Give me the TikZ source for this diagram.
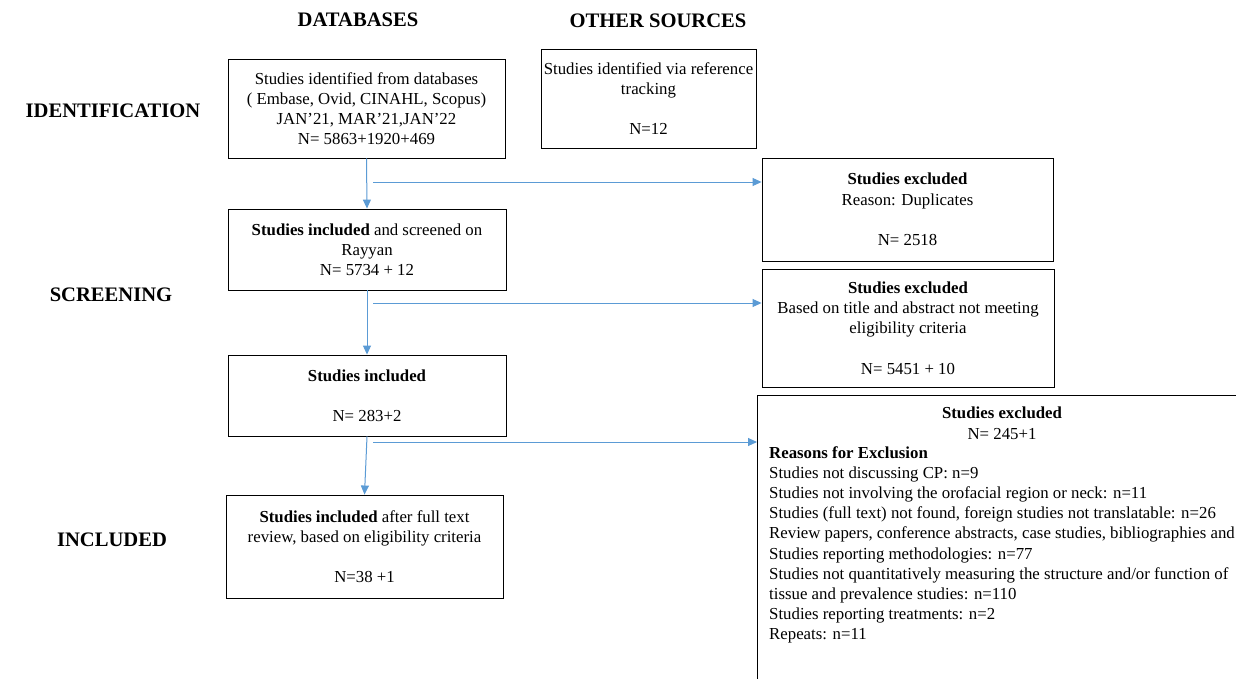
\documentclass[tikz,border=0pt]{standalone}
\usepackage{fontspec}
\setmainfont{Liberation Serif}
\usetikzlibrary{arrows.meta}
\definecolor{arrowblue}{HTML}{5B9BD5}
\begin{document}
\begin{tikzpicture}[x=1pt,y=-1pt,
  box/.style={draw=black, line width=0.9pt, align=center, inner sep=0pt, font=\fontsize{16.8}{20.2}\selectfont},
  txt/.style={inner sep=0pt, font=\fontsize{16.8}{20.2}\selectfont},
  head/.style={font=\fontsize{20.6}{24}\selectfont\bfseries, inner sep=0pt},
  flow/.style={draw=arrowblue, line width=1pt, -{Triangle[length=9pt,width=8pt]}}]
\clip (0,0) rectangle (1236,678);
\fill[white] (0,0) rectangle (1236,678);

% headings
\node[head] (hdb) at (358,20) {DATABASES};
\node[head] (hos) at (658,21) {OTHER SOURCES};
\node[head] (hid) at (113,111) {IDENTIFICATION};
\node[head] (hsc) at (111,295) {SCREENING};
\node[head] (hin) at (112,540) {INCLUDED};

% left column
\node[box, minimum width=277, minimum height=99] (b1) at (366.5,108.5)
  {Studies identified from databases\\( Embase, Ovid, CINAHL, Scopus)\\JAN’21, MAR’21,JAN’22\\N= 5863+1920+469};
\node[box, minimum width=215, minimum height=99] (os) at (648.5,98.5)
  {Studies identified via reference\\tracking\\~\\N=12};
\node[box, minimum width=278, minimum height=81] (b2) at (367,249.5)
  {\textbf{Studies included} and screened on\\Rayyan\\N= 5734 + 12};
\node[box, minimum width=278, minimum height=81] (b3) at (367,395.5)
  {\textbf{Studies included}\\~\\N= 283+2};
\node[box, minimum width=277, minimum height=103] (b4) at (364.5,546.5)
  {\textbf{Studies included} after full text\\review, based on eligibility criteria\\~\\N=38 +1};

% right column
\node[box, minimum width=291, minimum height=103] (e1) at (907.5,209.5)
  {\textbf{Studies excluded}\\Reason: Duplicates\\~\\N= 2518};
\node[box, minimum width=292, minimum height=118] (e2) at (908,328)
  {\textbf{Studies excluded}\\Based on title and abstract not meeting\\eligibility criteria\\~\\N= 5451 + 10};
\node[box, minimum width=493, minimum height=305, anchor=north west] (e3) at (757,395) {};
\node[txt, align=center, anchor=north] (e3t) at (1002,407)
  {\textbf{Studies excluded}\\N= 245+1};
\node[txt, align=left, anchor=north west] (e3r) at (769,446)
  {\textbf{Reasons for Exclusion}\\
   Studies not discussing CP: n=9\\
   Studies not involving the orofacial region or neck: n=11\\
   Studies (full text) not found, foreign studies not translatable: n=26\\
   Review papers, conference abstracts, case studies, bibliographies and\\
   Studies reporting methodologies: n=77\\
   Studies not quantitatively measuring the structure and/or function of\\
   tissue and prevalence studies: n=110\\
   Studies reporting treatments: n=2\\
   Repeats: n=11};

% connectors
\draw[flow] (b1.south) -- (b2.north);
\draw[flow] (b2.south) -- (b3.north);
\draw[flow] (b3.south) -- (b4.north);
\coordinate (a1) at (373,182);
\coordinate (a2) at (373,303);
\coordinate (a3) at (373,442);
\draw[flow] (a1) -- (a1 -| e1.west);
\draw[flow] (a2) -- (a2 -| e2.west);
\draw[flow] (a3) -- (a3 -| e3.west);
\end{tikzpicture}
\end{document}
